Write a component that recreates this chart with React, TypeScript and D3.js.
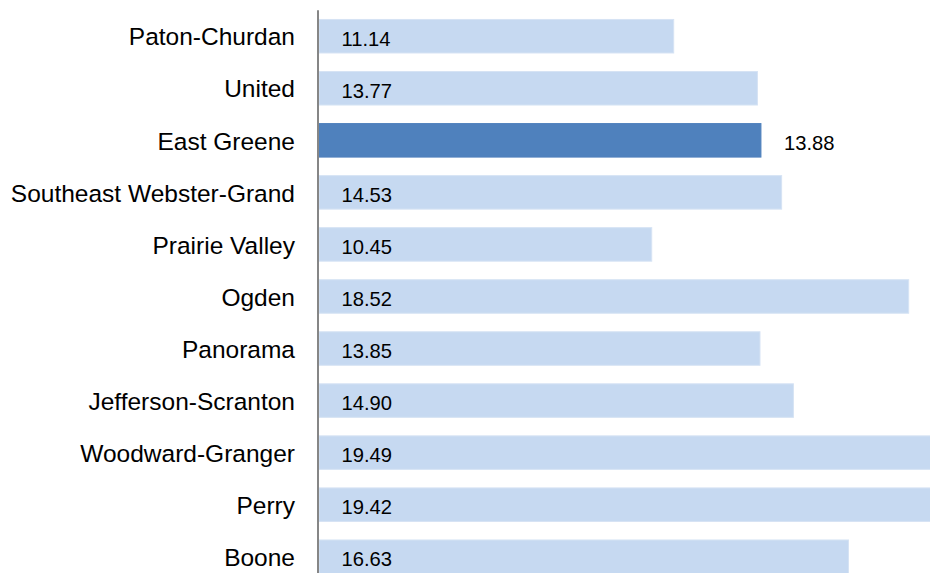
import * as d3 from "d3";
import { useEffect, useRef } from "react";

const districts = [
  "Paton-Churdan",
  "United",
  "East Greene",
  "Southeast Webster-Grand",
  "Prairie Valley",
  "Ogden",
  "Panorama",
  "Jefferson-Scranton",
  "Woodward-Granger",
  "Perry",
  "Boone",
];
const values = [11.14, 13.77, 13.88, 14.53, 10.45, 18.52, 13.85, 14.9, 19.49, 19.42, 16.63];
const highlighted = "East Greene";

export default function App() {
  const ref = useRef<SVGSVGElement>(null);

  useEffect(() => {
    const el = ref.current;
    if (!el) return;
    const width = 930;
    const height = 573;

    const svg = d3.select(el);
    svg.selectAll("*").remove();

    const rows = districts.map((name, i) => ({ name, value: values[i] }));

    const x = d3.scaleLinear().domain([0, 20]).range([319, 955.8]);
    const y = d3
      .scaleBand()
      .domain(districts)
      .range([10.2, 10.2 + 11 * 52.05])
      .paddingInner(0.356)
      .paddingOuter(0.178);

    const font = "'Liberation Sans', Arial, sans-serif";

    svg
      .append("g")
      .selectAll("rect")
      .data(rows)
      .join("rect")
      .attr("x", x(0))
      .attr("y", (d) => y(d.name)!)
      .attr("width", (d) => x(d.value) - x(0))
      .attr("height", y.bandwidth())
      .attr("fill", (d) => (d.name === highlighted ? "#4f81bd" : "#c6d9f1"))
      .attr("stroke", (d) => (d.name === highlighted ? "#4f81bd" : "#d6e3f4"))
      .attr("stroke-width", 1);

    // category labels
    svg
      .append("g")
      .selectAll("text")
      .data(rows)
      .join("text")
      .attr("x", 295)
      .attr("y", (d) => y(d.name)! + y.bandwidth() / 2 + 9.2)
      .attr("text-anchor", "end")
      .style("font-family", font)
      .style("font-size", "24.5px")
      .style("fill", "#000")
      .text((d) => d.name);

    // value labels
    svg
      .append("g")
      .selectAll("text")
      .data(rows)
      .join("text")
      .attr("x", (d) => (d.name === highlighted ? x(d.value) + 23 : 341.5))
      .attr("y", (d) => y(d.name)! + y.bandwidth() / 2 + 9.4)
      .style("font-family", font)
      .style("font-size", "20.2px")
      .style("fill", "#000")
      .text((d) => d.value.toFixed(2));

    // vertical axis line
    svg
      .append("line")
      .attr("x1", 318)
      .attr("x2", 318)
      .attr("y1", y.range()[0])
      .attr("y2", height + 10)
      .attr("stroke", "#868686")
      .attr("stroke-width", 2);

    svg.attr("width", width).attr("height", height);
  }, []);

  return (
    <svg
      ref={ref}
      width={930}
      height={573}
      style={{ position: "absolute", left: 0, top: 0, background: "#fff" }}
    />
  );
}
